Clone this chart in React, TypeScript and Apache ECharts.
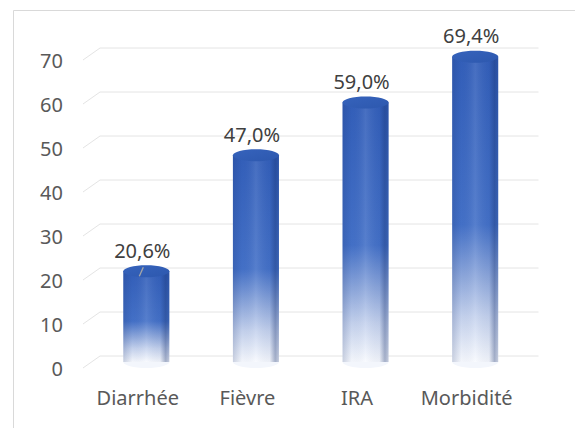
import React, { useEffect, useRef } from "react";
import * as echarts from "echarts";

// Data
const categories = ["Diarrhée", "Fièvre", "IRA", "Morbidité"];
const values = [20.6, 47.0, 59.0, 69.4];
const yTicks = [0, 10, 20, 30, 40, 50, 60, 70];

// Perspective depth of the pseudo-3D plot (px)
const DEPTH_X = 17;
const DEPTH_Y = -12;

const FONT = "'Noto Sans', 'Open Sans', sans-serif";

function fmt(v: number) {
  return v.toFixed(1).replace(".", ",") + "%";
}

export default function App() {
  const ref = useRef<HTMLDivElement>(null);

  useEffect(() => {
    if (!ref.current) return;
    const chart = echarts.init(ref.current, null, { renderer: "svg" });

    const gridSeries = {
      type: "custom",
      coordinateSystem: "cartesian2d",
      clip: false,
      z: 1,
      silent: true,
      data: yTicks.map((t) => [0, t]),
      encode: { x: 0, y: 1 },
      renderItem: (params: any, api: any) => {
        const cs = params.coordSys;
        const p = api.coord([0, api.value(1)]);
        const y = p[1];
        return {
          type: "polyline",
          shape: {
            points: [
              [cs.x, y],
              [cs.x + DEPTH_X, y + DEPTH_Y],
              [cs.x + cs.width + DEPTH_X, y + DEPTH_Y],
            ],
          },
          style: { stroke: "#E4E4E4", lineWidth: 1, fill: "none" },
        };
      },
    };

    const barSeries = {
      type: "custom",
      coordinateSystem: "cartesian2d",
      clip: false,
      z: 5,
      data: values.map((v, i) => [i, v]),
      encode: { x: 0, y: 1 },
      renderItem: (params: any, api: any) => {
        const idx = api.value(0);
        const v = api.value(1);
        const base = api.coord([idx, 0]);
        const top = api.coord([idx, v]);
        const cx = top[0] + DEPTH_X / 2;
        const topY = top[1] + DEPTH_Y / 2;
        const baseY = base[1] + DEPTH_Y / 2;
        const w = api.size([1, 0])[0] * 0.42;
        const rx = w / 2;
        const ry = 6;
        const children: any[] = [
          {
            type: "ellipse",
            shape: { cx, cy: baseY, rx, ry },
            style: { fill: "#F3F6FC" },
          },
          {
            type: "rect",
            shape: { x: cx - rx, y: topY, width: w, height: baseY - topY },
            style: {
              fill: new echarts.graphic.LinearGradient(0, 0, 0, 1, [
                { offset: 0, color: "#335FBA" },
                { offset: 0.55, color: "#4471C8" },
                { offset: 0.72, color: "#8EA8DC" },
                { offset: 0.85, color: "#C6D3EE" },
                { offset: 1, color: "#F8FAFE" },
              ]),
            },
          },
          {
            type: "rect",
            shape: { x: cx - rx, y: topY, width: w, height: baseY - topY },
            style: {
              fill: new echarts.graphic.LinearGradient(1, 0, 0, 0, [
                { offset: 0, color: "rgba(20,45,105,0.22)" },
                { offset: 0.08, color: "rgba(20,45,105,0.36)" },
                { offset: 0.2, color: "rgba(20,45,105,0.05)" },
                { offset: 0.5, color: "rgba(255,255,255,0.1)" },
                { offset: 0.8, color: "rgba(20,45,105,0.02)" },
                { offset: 1, color: "rgba(20,45,105,0.2)" },
              ]),
            },
          },
          {
            type: "ellipse",
            shape: { cx, cy: topY, rx, ry },
            style: {
              fill: new echarts.graphic.LinearGradient(0, 0, 1, 1, [
                { offset: 0, color: "#3663BC" },
                { offset: 1, color: "#2D58AE" },
              ]),
            },
          },
          {
            type: "text",
            style: {
              text: fmt(v),
              x: cx - 4,
              y: topY - 21,
              align: "center",
              verticalAlign: "middle",
              fill: "#404040",
              font: `20px ${FONT}`,
            },
          },
        ];
        if (params.dataIndex === 0) {
          children.push({
            type: "line",
            shape: { x1: cx - 3, y1: topY - 4, x2: cx - 7, y2: topY + 5 },
            style: { stroke: "#A6A6A6", lineWidth: 1.3 },
          });
        }
        return { type: "group", children };
      },
    };

    chart.setOption({
      animation: false,
      backgroundColor: "#FFFFFF",
      textStyle: { fontFamily: FONT },
      graphic: [
        {
          type: "rect",
          silent: true,
          shape: { x: 13.5, y: 10.5, width: 600, height: 600 },
          style: { fill: "none", stroke: "#D9D9D9", lineWidth: 1 },
        },
      ],
      grid: { left: 83, right: 53.5, top: 60, bottom: 60, containLabel: false },
      xAxis: {
        type: "category",
        data: categories,
        axisLine: { show: false },
        axisTick: { show: false },
        axisLabel: {
          color: "#595959",
          fontSize: 20,
          margin: 19,
          interval: 0,
          hideOverlap: false,
          fontFamily: FONT,
        },
      },
      yAxis: {
        type: "value",
        min: 0,
        max: 70,
        interval: 10,
        splitLine: { show: false },
        axisLine: { show: false },
        axisTick: { show: false },
        axisLabel: { color: "#595959", fontSize: 20, margin: 20, fontFamily: FONT },
      },
      series: [gridSeries, barSeries],
    });

    return () => chart.dispose();
  }, []);

  return (
    <div
      ref={ref}
      style={{ position: "fixed", left: 0, top: 0, width: 575, height: 428 }}
    />
  );
}
